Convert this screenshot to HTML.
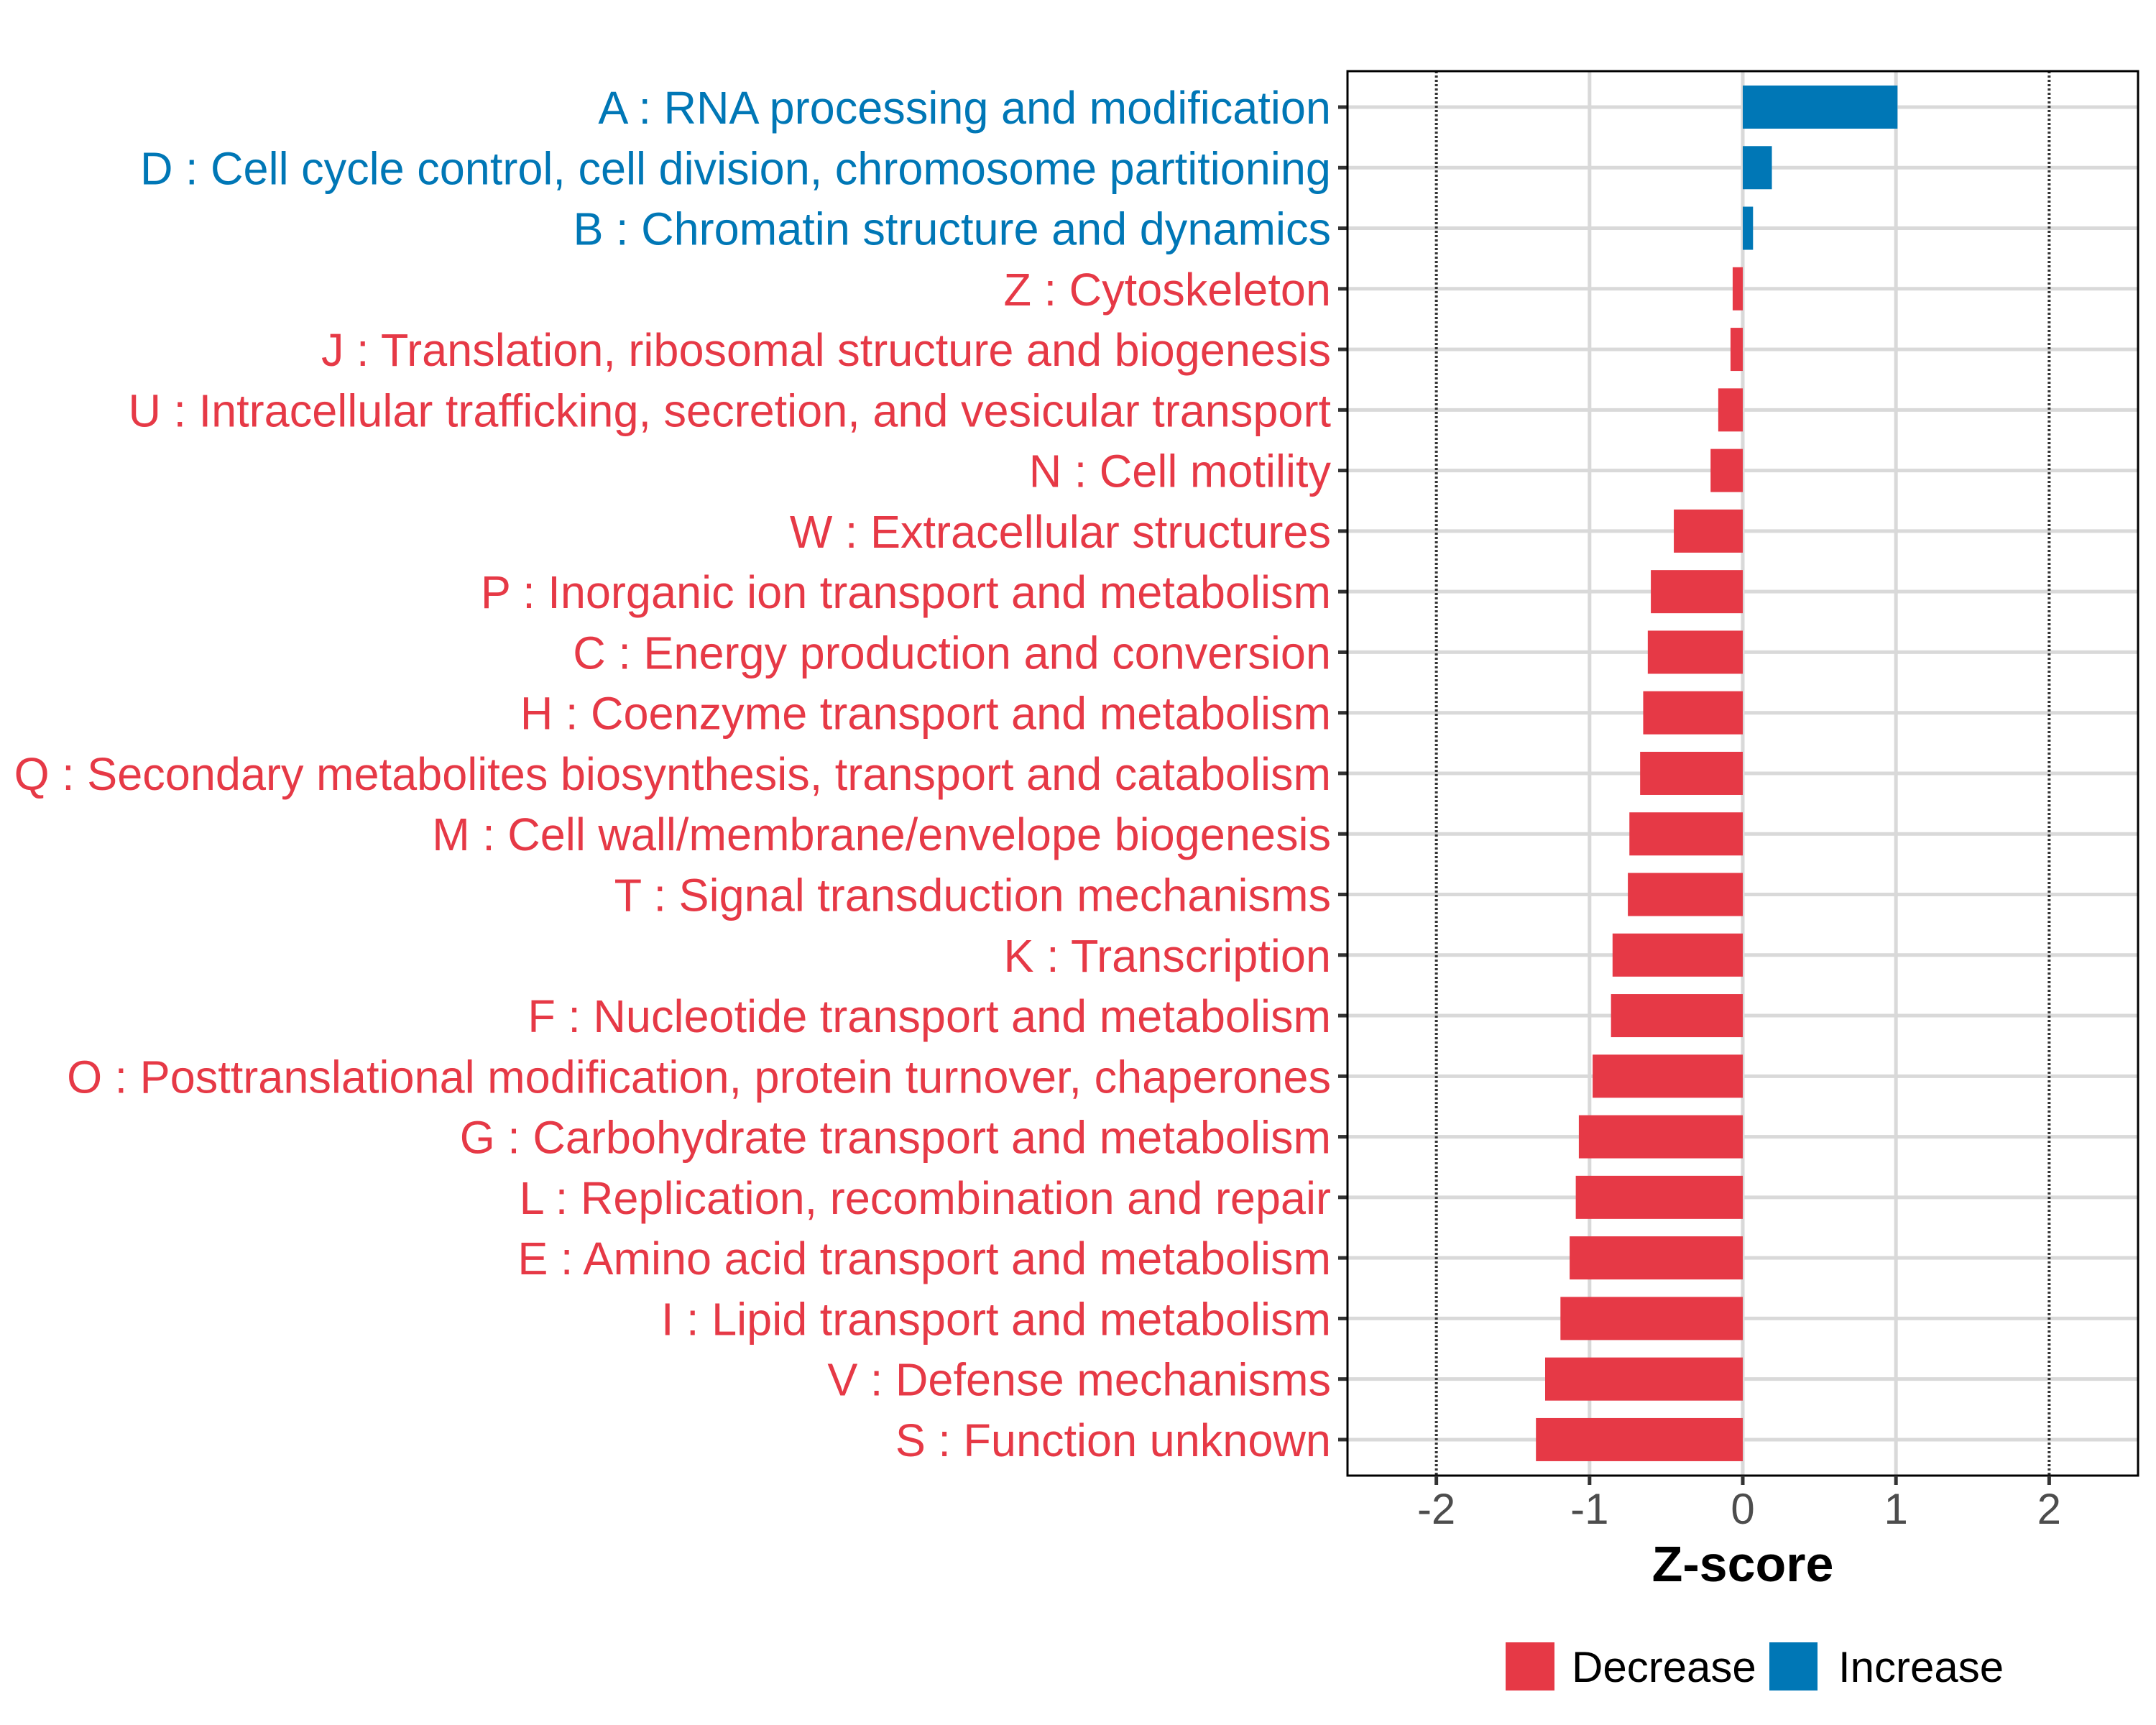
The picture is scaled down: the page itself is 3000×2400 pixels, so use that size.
<!DOCTYPE html>
<html><head><meta charset="utf-8"><style>html,body{margin:0;padding:0;background:#fff}svg{display:block}text{font-family:"Liberation Sans",sans-serif}</style></head>
<body>
<svg id="chart" width="3000" height="2400" viewBox="0 0 3000 2400" xmlns="http://www.w3.org/2000/svg">
<rect width="3000" height="2400" fill="#fff"/>
<g id="grid"></g>
<g id="bars"></g>
<g id="ylabels"></g>
<g id="xaxis"></g>
<text x="2425" y="2200" text-anchor="middle" font-size="70" font-weight="bold">Z-score</text>
<g>
<rect x="2095" y="2285" width="68" height="67" fill="#e63946"/>
<text x="2187" y="2340" font-size="60">Decrease</text>
<rect x="2462" y="2285" width="67" height="67" fill="#0077b6"/>
<text x="2558" y="2340" font-size="60">Increase</text>
</g>
</svg>
<script>
const categories = ["A : RNA processing and modification","D : Cell cycle control, cell division, chromosome partitioning","B : Chromatin structure and dynamics","Z : Cytoskeleton","J : Translation, ribosomal structure and biogenesis","U : Intracellular trafficking, secretion, and vesicular transport","N : Cell motility","W : Extracellular structures","P : Inorganic ion transport and metabolism","C : Energy production and conversion","H : Coenzyme transport and metabolism","Q : Secondary metabolites biosynthesis, transport and catabolism","M : Cell wall/membrane/envelope biogenesis","T : Signal transduction mechanisms","K : Transcription","F : Nucleotide transport and metabolism","O : Posttranslational modification, protein turnover, chaperones","G : Carbohydrate transport and metabolism","L : Replication, recombination and repair","E : Amino acid transport and metabolism","I : Lipid transport and metabolism","V : Defense mechanisms","S : Function unknown"];
const zscores = [1.01,0.19,0.067,-0.066,-0.08,-0.16,-0.21,-0.45,-0.6,-0.62,-0.65,-0.67,-0.74,-0.75,-0.85,-0.86,-0.98,-1.07,-1.09,-1.13,-1.19,-1.29,-1.35];
const xTicks = [-2,-1,0,1,2];
const xTickLabels = ["-2","-1","0","1","2"];
const thresholds = [-2,2];

const NS="http://www.w3.org/2000/svg";
const P={l:1875,r:2975,t:99,b:2053};
const xmin=-2.58,xmax=2.58;
const sx=v=>P.l+(v-xmin)/(xmax-xmin)*(P.r-P.l);
const step=84.27;
const sy=i=>149+i*step;
const RED="#e63946",BLUE="#0077b6",SX=0.985;
function mk(tag,a,parent){const e=document.createElementNS(NS,tag);for(const k in a)e.setAttribute(k,a[k]);parent.appendChild(e);return e;}
const grid=document.getElementById('grid'),bars=document.getElementById('bars'),yl=document.getElementById('ylabels'),xa=document.getElementById('xaxis');
categories.forEach((c,i)=>{
  const l=mk('line',{x1:P.l,x2:P.r,y1:sy(i),y2:sy(i),stroke:'#d9d9d9','stroke-width':5},grid);
  
  
});
xTicks.forEach(v=>{
  if(thresholds.includes(v))return;
  const l=mk('line',{x1:sx(v),x2:sx(v),y1:P.t,y2:P.b,stroke:'#d9d9d9','stroke-width':5},grid);
  
  
});
categories.forEach((c,i)=>{
  const v=zscores[i];
  const x0=sx(Math.min(0,v)),x1=sx(Math.max(0,v));
  const r=mk('rect',{x:x0,y:sy(i)-30,width:Math.max(0,x1-x0),height:60,fill:v>=0?BLUE:RED},bars);
  
  
});
thresholds.forEach(v=>{
  const l=mk('line',{x1:sx(v),x2:sx(v),y1:P.t,y2:P.b,stroke:'#333','stroke-width':4,'stroke-dasharray':'3 3'},grid);
  
  
});
const bd=mk('rect',{x:P.l,y:P.t,width:P.r-P.l,height:P.b-P.t,fill:'none',stroke:'#000','stroke-width':3},xa);


categories.forEach((c,i)=>{
  const tk=mk('line',{x1:P.l-13,x2:P.l,y1:sy(i),y2:sy(i),stroke:'#333','stroke-width':5},yl);
  
  
  const ax=1852;
  const t=mk('text',{x:ax,y:sy(i)+23,'text-anchor':'end','font-size':64,fill:zscores[i]>=0?BLUE:RED,transform:`translate(${ax},0) scale(${SX},1) translate(${-ax},0)`},yl);
  t.textContent=c;
  
  
});
xTicks.forEach((v,i)=>{
  const tk=mk('line',{x1:sx(v),x2:sx(v),y1:P.b,y2:P.b+13,stroke:'#333','stroke-width':5},xa);
  
  
  const ax=sx(v);
  const t=mk('text',{x:ax,y:2120,'text-anchor':'middle','font-size':60,fill:'#4d4d4d'},xa);
  t.textContent=xTickLabels[i];
  
  
});
</script>
</body></html>
